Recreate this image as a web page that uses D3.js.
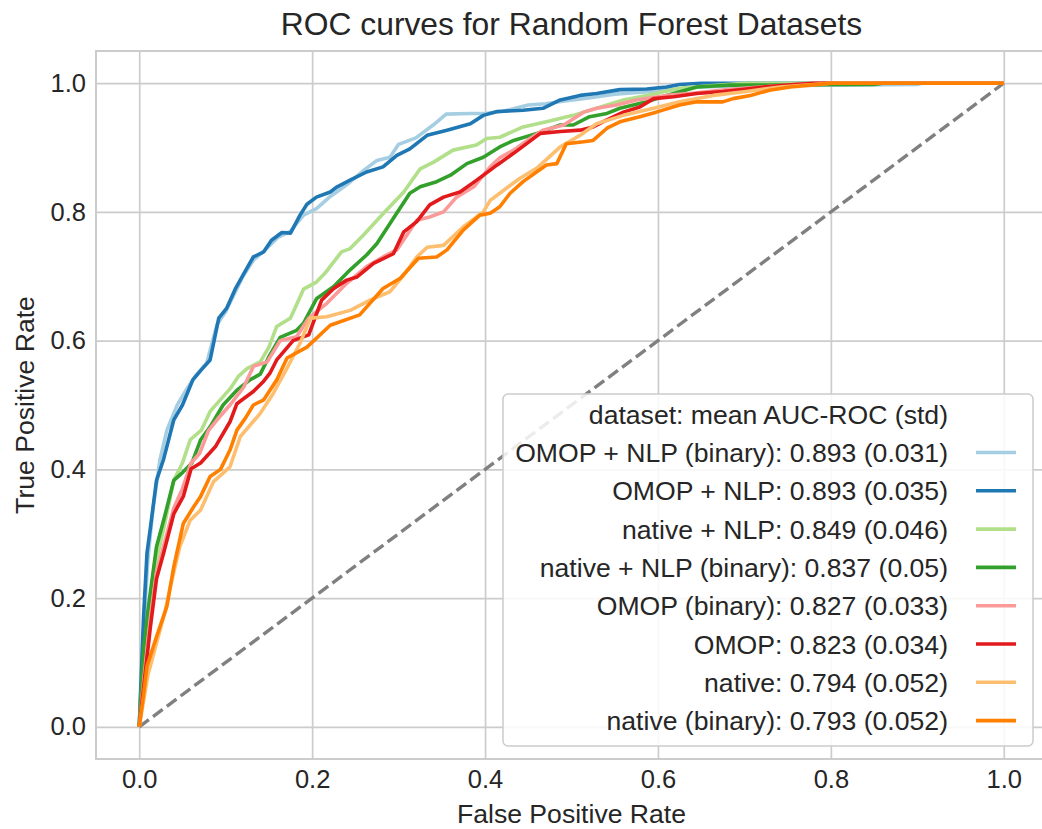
<!DOCTYPE html>
<html>
<head>
<meta charset="utf-8">
<script src="https://cdnjs.cloudflare.com/ajax/libs/d3/7.8.5/d3.min.js"></script>
<style>
  body { margin: 0; background: #fff; }
  svg { font-family: 'Liberation Sans', Arial, sans-serif; }
</style>
</head>
<body>
<div id="chart"></div>
<script>
// mean ROC curves as [fpr, tpr]
const omopNlpBinary = [[0,0],[0.005,0.15],[0.01,0.26],[0.016,0.34],[0.024,0.415],[0.032,0.461],[0.044,0.5],[0.055,0.525],[0.065,0.545],[0.078,0.565],[0.09,0.625],[0.1,0.645],[0.12,0.7],[0.132,0.725],[0.145,0.74],[0.16,0.76],[0.175,0.77],[0.19,0.795],[0.205,0.805],[0.221,0.824],[0.24,0.842],[0.26,0.865],[0.275,0.88],[0.29,0.885],[0.3,0.905],[0.32,0.915],[0.34,0.935],[0.355,0.952],[0.383,0.953],[0.4,0.953],[0.42,0.956],[0.45,0.966],[0.47,0.968],[0.49,0.972],[0.52,0.977],[0.55,0.983],[0.6,0.988],[0.65,0.994],[0.7,0.996],[0.8,0.997],[0.9,0.998],[0.905,1],[1,1]];
const omopNlp = [[0,0],[0.005,0.17],[0.009,0.27],[0.013,0.31],[0.02,0.383],[0.028,0.415],[0.04,0.477],[0.05,0.5],[0.062,0.539],[0.072,0.555],[0.082,0.57],[0.092,0.635],[0.101,0.65],[0.111,0.68],[0.121,0.704],[0.132,0.73],[0.144,0.738],[0.153,0.756],[0.165,0.768],[0.175,0.767],[0.186,0.795],[0.194,0.812],[0.205,0.823],[0.221,0.831],[0.229,0.839],[0.245,0.85],[0.263,0.862],[0.282,0.87],[0.298,0.888],[0.313,0.898],[0.333,0.919],[0.356,0.927],[0.383,0.937],[0.398,0.95],[0.414,0.956],[0.444,0.958],[0.467,0.961],[0.487,0.974],[0.51,0.981],[0.529,0.984],[0.556,0.99],[0.587,0.991],[0.61,0.994],[0.625,0.998],[0.65,1],[1,1]];
const nativeNlp = [[0,0],[0.005,0.1],[0.01,0.16],[0.02,0.26],[0.028,0.306],[0.04,0.383],[0.05,0.41],[0.059,0.446],[0.072,0.461],[0.082,0.49],[0.095,0.51],[0.105,0.525],[0.115,0.545],[0.125,0.557],[0.14,0.567],[0.15,0.59],[0.159,0.622],[0.175,0.635],[0.19,0.68],[0.205,0.691],[0.215,0.705],[0.234,0.738],[0.244,0.743],[0.26,0.765],[0.282,0.797],[0.306,0.831],[0.325,0.867],[0.34,0.877],[0.363,0.896],[0.39,0.904],[0.402,0.914],[0.417,0.916],[0.444,0.932],[0.471,0.94],[0.502,0.95],[0.529,0.961],[0.56,0.974],[0.587,0.981],[0.625,0.992],[0.66,0.996],[0.7,1],[1,1]];
const nativeNlpBinary = [[0,0],[0.005,0.12],[0.01,0.18],[0.02,0.28],[0.03,0.33],[0.04,0.383],[0.05,0.395],[0.061,0.41],[0.071,0.446],[0.082,0.466],[0.097,0.5],[0.113,0.523],[0.128,0.539],[0.14,0.548],[0.15,0.575],[0.163,0.605],[0.182,0.616],[0.19,0.627],[0.205,0.665],[0.225,0.684],[0.244,0.71],[0.263,0.733],[0.275,0.751],[0.294,0.79],[0.313,0.829],[0.325,0.839],[0.344,0.847],[0.36,0.857],[0.379,0.875],[0.398,0.885],[0.417,0.901],[0.433,0.911],[0.46,0.922],[0.487,0.935],[0.502,0.935],[0.521,0.948],[0.541,0.953],[0.556,0.961],[0.587,0.971],[0.61,0.981],[0.645,0.994],[0.683,0.997],[0.85,0.998],[0.86,1],[1,1]];
const omopBinary = [[0,0],[0.005,0.07],[0.013,0.17],[0.02,0.24],[0.03,0.29],[0.04,0.34],[0.05,0.37],[0.06,0.41],[0.07,0.425],[0.08,0.46],[0.09,0.477],[0.105,0.5],[0.121,0.528],[0.132,0.56],[0.148,0.567],[0.163,0.6],[0.182,0.606],[0.196,0.635],[0.217,0.658],[0.24,0.689],[0.263,0.715],[0.282,0.73],[0.298,0.741],[0.321,0.787],[0.336,0.792],[0.352,0.8],[0.367,0.823],[0.387,0.839],[0.406,0.87],[0.417,0.884],[0.433,0.896],[0.452,0.914],[0.467,0.927],[0.491,0.935],[0.514,0.955],[0.529,0.961],[0.552,0.966],[0.575,0.974],[0.61,0.981],[0.637,0.984],[0.68,0.99],[0.73,0.995],[0.78,1],[1,1]];
const omop = [[0,0],[0.005,0.06],[0.013,0.156],[0.02,0.23],[0.028,0.269],[0.04,0.331],[0.051,0.358],[0.06,0.401],[0.071,0.41],[0.088,0.435],[0.105,0.474],[0.113,0.502],[0.121,0.51],[0.132,0.521],[0.144,0.537],[0.151,0.549],[0.159,0.57],[0.178,0.6],[0.196,0.609],[0.211,0.663],[0.225,0.681],[0.24,0.694],[0.252,0.699],[0.271,0.72],[0.294,0.735],[0.306,0.769],[0.321,0.785],[0.336,0.811],[0.352,0.823],[0.371,0.831],[0.39,0.849],[0.406,0.865],[0.414,0.873],[0.433,0.891],[0.464,0.922],[0.487,0.925],[0.51,0.927],[0.525,0.932],[0.541,0.943],[0.56,0.955],[0.579,0.963],[0.595,0.976],[0.618,0.979],[0.645,0.984],[0.675,0.987],[0.702,0.991],[0.722,0.994],[0.749,0.997],[0.78,1],[1,1]];
const native = [[0,0],[0.005,0.04],[0.01,0.08],[0.02,0.13],[0.03,0.18],[0.036,0.218],[0.047,0.28],[0.059,0.321],[0.071,0.337],[0.086,0.381],[0.105,0.404],[0.117,0.451],[0.14,0.487],[0.155,0.518],[0.17,0.555],[0.186,0.596],[0.198,0.635],[0.217,0.637],[0.244,0.647],[0.267,0.663],[0.29,0.676],[0.306,0.702],[0.321,0.73],[0.333,0.745],[0.352,0.748],[0.375,0.777],[0.398,0.8],[0.406,0.818],[0.417,0.829],[0.44,0.852],[0.46,0.868],[0.487,0.901],[0.51,0.919],[0.529,0.937],[0.56,0.95],[0.595,0.961],[0.625,0.971],[0.664,0.981],[0.702,0.987],[0.741,0.994],[0.78,0.998],[0.8,1],[1,1]];
const nativeBinary = [[0,0],[0.005,0.05],[0.009,0.094],[0.02,0.14],[0.032,0.187],[0.04,0.249],[0.051,0.316],[0.063,0.342],[0.071,0.358],[0.082,0.389],[0.094,0.4],[0.105,0.43],[0.113,0.461],[0.123,0.48],[0.132,0.5],[0.144,0.508],[0.159,0.539],[0.171,0.573],[0.194,0.59],[0.221,0.624],[0.255,0.64],[0.282,0.681],[0.302,0.697],[0.323,0.728],[0.344,0.73],[0.356,0.741],[0.375,0.772],[0.394,0.795],[0.406,0.798],[0.417,0.808],[0.429,0.829],[0.444,0.847],[0.471,0.873],[0.483,0.875],[0.494,0.906],[0.514,0.909],[0.525,0.911],[0.541,0.93],[0.556,0.94],[0.579,0.948],[0.598,0.955],[0.625,0.966],[0.645,0.971],[0.675,0.971],[0.687,0.976],[0.707,0.981],[0.729,0.989],[0.753,0.994],[0.776,0.997],[0.8,1],[1,1]];

const seriesCurves = [omopNlpBinary, omopNlp, nativeNlp, nativeNlpBinary, omopBinary, omop, native, nativeBinary];
const seriesLabels = [
  'OMOP + NLP (binary): 0.893 (0.031)',
  'OMOP + NLP: 0.893 (0.035)',
  'native + NLP: 0.849 (0.046)',
  'native + NLP (binary): 0.837 (0.05)',
  'OMOP (binary): 0.827 (0.033)',
  'OMOP: 0.823 (0.034)',
  'native: 0.794 (0.052)',
  'native (binary): 0.793 (0.052)'
];
const seriesColors = ['#a6cee3', '#1f78b4', '#b2df8a', '#33a02c', '#fb9a99', '#e31a1c', '#fdbf6f', '#ff7f00'];
const tickValues = [0, 0.2, 0.4, 0.6, 0.8, 1.0];
const chanceLine = [[0, 0], [1, 1]];

let width = 1042;
let height = 829;
let plot = {left: 96, top: 51, right: 1047, bottom: 759};
let gridColor = '#cccccc';
let textColor = '#262626';

let svg = d3.select('#chart')
.append('svg')
.attr('width', width)
.attr('height', height);

let x = d3.scaleLinear().domain([-0.05, 1.05]).range([plot.left, plot.right]);
let y = d3.scaleLinear().domain([-0.05, 1.05]).range([plot.bottom, plot.top]);

// axes double as the grid
let xAxis = svg.append('g')
.attr('transform', `translate(0,${plot.bottom})`)
.call(d3.axisBottom(x)
  .tickValues(tickValues)
  .tickFormat(d3.format('.1f'))
  .tickSize(-(plot.bottom - plot.top))
  .tickPadding(11));

let yAxis = svg.append('g')
.attr('transform', `translate(${plot.left},0)`)
.call(d3.axisLeft(y)
  .tickValues(tickValues)
  .tickFormat(d3.format('.1f'))
  .tickSize(-(plot.right - plot.left))
  .tickPadding(10));

[xAxis, yAxis].forEach(function(axis) {
  axis.select('.domain').remove();
  axis.selectAll('.tick line')
  .attr('stroke', gridColor)
  .attr('stroke-width', 1.7);
  axis.selectAll('.tick text')
  .attr('fill', textColor)
  .style('font-size', '25.5px')
  .style('font-family', "'Liberation Sans', Arial, sans-serif");
});

svg.append('rect')
.attr('x', plot.left)
.attr('y', plot.top)
.attr('width', plot.right - plot.left)
.attr('height', plot.bottom - plot.top)
.attr('fill', 'none')
.attr('stroke', gridColor)
.attr('stroke-width', 2);

let line = d3.line()
.x(d => x(d[0]))
.y(d => y(d[1]));

svg.append('path')
.attr('d', line(chanceLine))
.attr('fill', 'none')
.attr('stroke', '#808080')
.attr('stroke-width', 3.4)
.attr('stroke-dasharray', '12,5.2');

svg.append('g')
.selectAll('path')
.data(seriesCurves)
.join('path')
.attr('d', d => line(d))
.attr('fill', 'none')
.attr('stroke', (d, i) => seriesColors[i])
.attr('stroke-width', 3.6)
.attr('stroke-linejoin', 'round');

// titles
svg.append('text')
.attr('x', (plot.left + plot.right) / 2)
.attr('y', 35)
.attr('text-anchor', 'middle')
.attr('fill', textColor)
.style('font-size', '31.8px')
.text('ROC curves for Random Forest Datasets');

svg.append('text')
.attr('x', (plot.left + plot.right) / 2)
.attr('y', 823)
.attr('text-anchor', 'middle')
.attr('fill', textColor)
.style('font-size', '26.6px')
.text('False Positive Rate');

svg.append('text')
.attr('transform', `translate(34,${(plot.top + plot.bottom) / 2}) rotate(-90)`)
.attr('text-anchor', 'middle')
.attr('fill', textColor)
.style('font-size', '26.6px')
.text('True Positive Rate');

// legend, text right of handles like markerfirst=False
let legend = svg.append('g');
legend.append('rect')
.attr('x', 503)
.attr('y', 394)
.attr('width', 530)
.attr('height', 352)
.attr('rx', 5)
.attr('fill', 'rgba(255,255,255,0.85)')
.attr('stroke', gridColor)
.attr('stroke-width', 1.5);

legend.append('text')
.attr('x', 948)
.attr('y', 423.5)
.attr('text-anchor', 'end')
.attr('fill', textColor)
.style('font-size', '26.6px')
.text('dataset: mean AUC-ROC (std)');

let rowStep = 38.3;
let rows = legend.selectAll('.row')
.data(seriesLabels)
.join('g')
.attr('class', 'row')
.attr('transform', (d, i) => `translate(0,${462 + i * rowStep})`);

rows.append('text')
.attr('x', 948)
.attr('text-anchor', 'end')
.attr('fill', textColor)
.style('font-size', '26.6px')
.text(d => d);

rows.append('line')
.attr('x1', 976)
.attr('x2', 1016)
.attr('y1', -9.5)
.attr('y2', -9.5)
.attr('stroke', (d, i) => seriesColors[i])
.attr('stroke-width', 3.6);
</script>
</body>
</html>
